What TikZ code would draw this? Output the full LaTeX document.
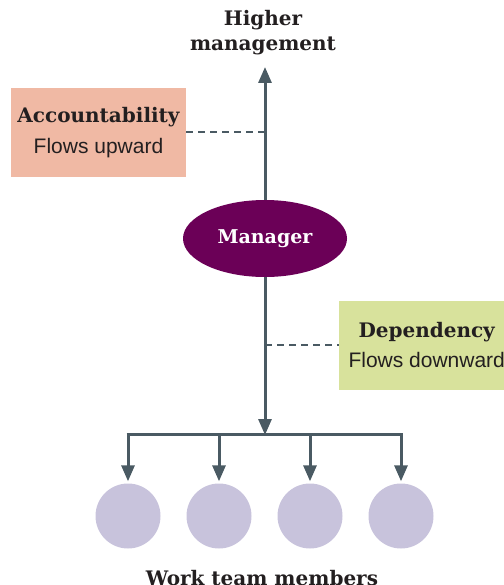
\documentclass[tikz,border=0pt]{standalone}
\usepackage{fontspec}
\usetikzlibrary{shapes.geometric,arrows.meta}
\newfontfamily\headfont{DejaVu Serif}
\newfontfamily\bodyfont{Liberation Sans}
\definecolor{linec}{HTML}{4A5A63}
\definecolor{accfill}{HTML}{F0B9A4}
\definecolor{depfill}{HTML}{D8E29C}
\definecolor{mgrfill}{HTML}{6B0057}
\definecolor{memfill}{HTML}{C8C3DC}
\definecolor{textc}{HTML}{231F20}
\tikzset{
  x=1pt, y=-1pt,
  head/.style={font=\headfont\bfseries\fontsize{20}{25}\selectfont, text=textc, align=center},
  infobox/.style={rectangle, minimum width=175pt, minimum height=89pt, inner sep=0pt, align=center, text=textc},
  flow/.style={draw=linec, line width=3pt, -{Triangle[length=16pt,width=13pt]}},
  bar/.style={draw=linec, line width=3pt},
  link/.style={draw=linec, line width=2.4pt, dash pattern=on 7pt off 5pt},
  member/.style={circle, fill=memfill, minimum size=65pt, inner sep=0pt},
}
\begin{document}
\begin{tikzpicture}
\useasboundingbox (0,0) rectangle (503,585);

% labels at the ends of the chain of command
\node[head] (hm) at (263,33) {Higher\\management};
\node[head] (wtm) at (262,578) {Work team members};

% accountability and dependency boxes
\node[infobox, fill=accfill] (acc) at (98.5,132.5)
  {{\headfont\bfseries\fontsize{20}{22}\selectfont Accountability}\\[10pt]
   {\bodyfont\fontsize{21}{22}\selectfont Flows upward}};
\node[infobox, fill=depfill, anchor=west] (dep) at (339,345)
  {{\headfont\bfseries\fontsize{20}{22}\selectfont Dependency}\\[10pt]
   {\bodyfont\fontsize{21}{22}\selectfont Flows downward}};

% the manager
\node[ellipse, fill=mgrfill, minimum width=164pt, minimum height=77pt, inner sep=0pt,
      font=\headfont\bfseries\fontsize{19}{22}\selectfont, text=white] (mgr) at (265,238.5) {Manager};

% work team members
\foreach \i/\x in {1/128,2/219,3/310,4/401}
  \node[member] (m\i) at (\x,516) {};

% branching points
\coordinate (top) at (265,67);
\coordinate (split) at (265,434);
\coordinate (bl) at (128,434);
\coordinate (br) at (401,434);
\coordinate (up) at (265,132);
\coordinate (down) at (265,345);

% accountability runs upward, dependency downward
\draw[flow] (mgr.north) -- (top);
\draw[flow] (mgr.south) -- ([yshift=-1pt]split);
\draw[bar] ([xshift=-1.5pt]bl) -- ([xshift=1.5pt]br);
\foreach \i/\x in {1/128,2/219,3/310,4/401}
  \draw[flow] (\x,434) -- ([yshift=2pt]m\i.north);

% dashed leaders from the boxes to the line
\draw[link] (acc.east |- up) -- (up);
\draw[link] (down) -- (dep.west);
\end{tikzpicture}
\end{document}
